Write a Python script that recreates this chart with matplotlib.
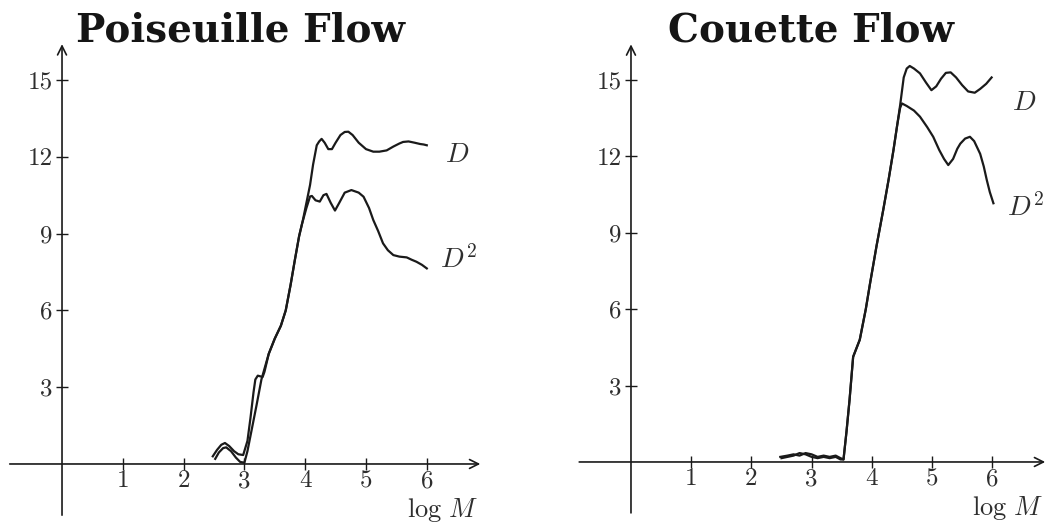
import matplotlib
matplotlib.use("Agg")
import matplotlib.pyplot as plt
import matplotlib.patheffects as pe

plt.rcParams['font.family'] = ['cmr10', 'DejaVu Serif']
plt.rcParams['mathtext.fontset'] = 'cm'
plt.rcParams['axes.unicode_minus'] = False

# ---------------- data ----------------
titles = ["Poiseuille Flow", "Couette Flow"]
x_ticks = [1, 2, 3, 4, 5, 6]
x_tick_labels = ["1", "2", "3", "4", "5", "6"]
y_ticks = [3, 6, 9, 12, 15]
y_tick_labels = ["3", "6", "9", "12", "15"]
x_label = r"$\log\,M$"
series_labels = [r"$D$", r"$D^2$"]

pois_D_x = [2.48, 2.55, 2.62, 2.68, 2.75, 2.83, 2.90, 2.98, 3.05, 3.10, 3.15, 3.18, 3.22,
            3.30, 3.33, 3.40, 3.50, 3.60, 3.68, 3.76, 3.83, 3.90, 3.96, 4.02, 4.08, 4.13,
            4.19, 4.23, 4.27, 4.32, 4.38, 4.44, 4.50, 4.58, 4.65, 4.71, 4.78, 4.88, 5.00,
            5.12, 5.22, 5.34, 5.45, 5.55, 5.61, 5.70, 5.80, 5.89, 5.95, 6.00]
pois_D_y = [0.30, 0.55, 0.75, 0.82, 0.70, 0.50, 0.38, 0.35, 0.90, 1.80, 2.80, 3.30, 3.45,
            3.40, 3.60, 4.30, 4.90, 5.40, 6.00, 7.00, 7.97, 8.90, 9.50, 10.20, 10.90, 11.70,
            12.45, 12.60, 12.70, 12.55, 12.30, 12.30, 12.55, 12.85, 12.97, 12.98, 12.85, 12.55, 12.30,
            12.20, 12.20, 12.25, 12.40, 12.52, 12.58, 12.60, 12.55, 12.50, 12.48, 12.45]

pois_D2_x = [2.52, 2.58, 2.65, 2.70, 2.78, 2.86, 2.93, 3.00, 3.05, 3.10, 3.20, 3.28, 3.40,
             3.50, 3.60, 3.68, 3.76, 3.83, 3.90, 3.95, 4.02, 4.08, 4.11, 4.17, 4.24, 4.30,
             4.35, 4.42, 4.49, 4.56, 4.65, 4.76, 4.88, 4.96, 5.05, 5.12, 5.20, 5.28, 5.36,
             5.45, 5.55, 5.67, 5.75, 5.83, 5.92, 6.00]
pois_D2_y = [0.20, 0.45, 0.62, 0.65, 0.50, 0.25, 0.08, 0.05, 0.50, 1.10, 2.30, 3.30, 4.30,
             4.90, 5.40, 6.00, 7.00, 7.97, 8.90, 9.40, 10.00, 10.45, 10.47, 10.30, 10.25, 10.50,
             10.55, 10.20, 9.90, 10.20, 10.60, 10.70, 10.60, 10.44, 10.00, 9.53, 9.10, 8.62, 8.35,
             8.16, 8.10, 8.07, 7.98, 7.90, 7.78, 7.64]

cou_D_x = [2.48, 2.60, 2.70, 2.80, 2.90, 3.00, 3.10, 3.20, 3.30, 3.40, 3.48, 3.53, 3.58,
           3.63, 3.69, 3.80, 3.90, 3.97, 4.08, 4.19, 4.28, 4.36, 4.42, 4.47, 4.53, 4.58,
           4.63, 4.70, 4.80, 4.90, 4.99, 5.07, 5.15, 5.23, 5.31, 5.40, 5.50, 5.60, 5.71,
           5.80, 5.90, 5.99]
cou_D_y = [0.20, 0.25, 0.30, 0.25, 0.35, 0.30, 0.20, 0.25, 0.20, 0.25, 0.15, 0.10, 1.20,
           2.43, 4.13, 4.80, 6.00, 7.00, 8.50, 9.90, 11.10, 12.25, 13.20, 14.00, 15.10, 15.45,
           15.55, 15.45, 15.26, 14.90, 14.60, 14.75, 15.05, 15.28, 15.30, 15.10, 14.80, 14.55, 14.50,
           14.65, 14.85, 15.10]

cou_D2_x = [2.50, 2.60, 2.70, 2.80, 2.90, 3.00, 3.10, 3.20, 3.30, 3.40, 3.48, 3.53, 3.58,
            3.63, 3.69, 3.80, 3.90, 3.97, 4.08, 4.19, 4.28, 4.36, 4.42, 4.47, 4.50, 4.58,
            4.70, 4.80, 4.92, 5.02, 5.12, 5.20, 5.27, 5.35, 5.42, 5.47, 5.55, 5.63, 5.70,
            5.80, 5.86, 5.91, 5.96, 6.02]
cou_D2_y = [0.15, 0.20, 0.25, 0.35, 0.30, 0.20, 0.15, 0.20, 0.15, 0.20, 0.10, 0.10, 1.20,
            2.43, 4.13, 4.80, 6.00, 7.00, 8.50, 9.90, 11.10, 12.25, 13.20, 13.90, 14.08, 13.98,
            13.80, 13.56, 13.15, 12.77, 12.25, 11.90, 11.66, 11.90, 12.30, 12.50, 12.70, 12.77, 12.60,
            12.10, 11.60, 11.07, 10.60, 10.16]

panels = [
    dict(title=titles[0], D=(pois_D_x, pois_D_y), D2=(pois_D2_x, pois_D2_y),
         pos=[7.3 / 1048, (529 - 520.3) / 529, (481.5 - 7.3) / 1048, (520.3 - 41.6) / 529],
         lab_D=(6.30, 12.07), lab_D2=(6.22, 7.97), title_x=241),
    dict(title=titles[1], D=(cou_D_x, cou_D_y), D2=(cou_D2_x, cou_D2_y),
         pos=[576.8 / 1048, (529 - 518.0) / 529, (1046.4 - 576.8) / 1048, (518.0 - 41.8) / 529],
         lab_D=(6.33, 14.10), lab_D2=(6.25, 10.00), title_x=811),
]

fig = plt.figure(figsize=(10.48, 5.29), dpi=100)
ink = '#1a1a1a'
txt = '#2e2e2e'

for p in panels:
    ax = fig.add_axes(p['pos'])
    ax.set_xlim(-0.9, 6.9)
    ax.set_ylim(-2.2, 16.5)
    for s in ax.spines.values():
        s.set_visible(False)
    ax.spines['left'].set_position(('data', 0))
    ax.spines['bottom'].set_position(('data', 0))
    ax.set_xticks(x_ticks)
    ax.set_xticklabels(x_tick_labels)
    ax.set_yticks(y_ticks)
    ax.set_yticklabels(y_tick_labels)
    ax.tick_params(direction='inout', length=9, width=1.0, color=ink,
                   labelsize=18, labelcolor=txt)
    ax.tick_params(axis='x', pad=0)
    ax.tick_params(axis='y', pad=2)
    # axes with arrows
    ax.annotate('', xy=(6.88, 0), xytext=(-0.86, 0),
                arrowprops=dict(arrowstyle='->', lw=1.2, color=ink, mutation_scale=16,
                                shrinkA=0, shrinkB=0))
    ax.annotate('', xy=(0, 16.4), xytext=(0, -2.0),
                arrowprops=dict(arrowstyle='->', lw=1.2, color=ink, mutation_scale=16,
                                shrinkA=0, shrinkB=0))
    ax.plot(*p['D'], color=ink, lw=1.6)
    ax.plot(*p['D2'], color=ink, lw=1.6)
    ax.text(p['lab_D'][0], p['lab_D'][1], series_labels[0], fontsize=20,
            ha='left', va='center', color=txt)
    ax.text(p['lab_D2'][0], p['lab_D2'][1], series_labels[1], fontsize=20,
            ha='left', va='center', color=txt)
    ax.text(6.84, -2.07, x_label, fontsize=19, ha='right', va='baseline', color=txt)
    fig.text(p['title_x'] / 1048, 1 - 42 / 529, p['title'], fontsize=28,
             family='DejaVu Serif', fontweight='bold', ha='center', va='baseline',
             color='#151515')

fig.savefig('out.png', dpi=100)
